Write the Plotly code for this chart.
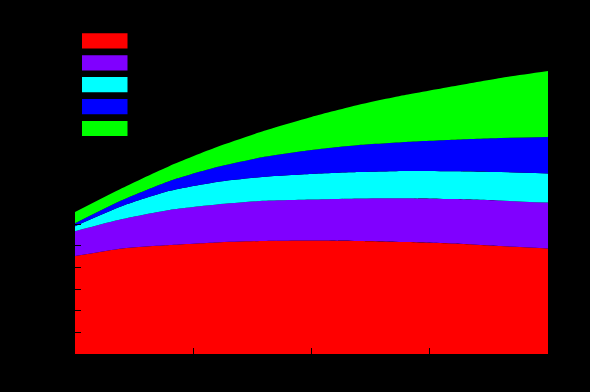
import plotly.graph_objects as go

# ---- data ----
x_vals = [0, 1, 2, 3, 4, 5, 6, 7, 8, 9, 10]
series_names = ["series 1", "series 2", "series 3", "series 4", "series 5"]
series_colors = ["#ff0000", "#8000ff", "#00ffff", "#0000ff", "#00ff00"]
s1 = [4.52, 4.87, 5.03, 5.15, 5.22, 5.24, 5.22, 5.17, 5.10, 4.98, 4.87]
s2 = [1.15, 1.36, 1.62, 1.75, 1.85, 1.89, 1.96, 2.02, 2.05, 2.10, 2.12]
s3 = [0.23, 0.60, 0.88, 1.04, 1.11, 1.18, 1.22, 1.26, 1.29, 1.32, 1.34]
s4 = [0.14, 0.28, 0.46, 0.69, 0.92, 1.11, 1.25, 1.34, 1.45, 1.57, 1.68]
s5 = [0.51, 0.55, 0.69, 0.92, 1.20, 1.52, 1.85, 2.17, 2.47, 2.77, 3.05]
series_values = [s1, s2, s3, s4, s5]
x_ticks = [0, 2.5, 5, 7.5, 10]
x_tick_labels = ["0", "2.5", "5", "7.5", "10"]
y_ticks = list(range(0, 16))

# ---- layout geometry ----
W, H = 590, 392
ML, MR, MT, MB = 75, 42, 26, 38
plot_w = W - ML - MR
plot_h = H - MT - MB
y_max = plot_h / 21.667

fig = go.Figure()
for name, color, vals in zip(series_names, series_colors, series_values):
    fig.add_trace(go.Scatter(
        x=x_vals, y=vals, name=name, stackgroup="one", mode="none",
        fillcolor=color, line=dict(width=0, shape="spline", smoothing=0.6),
        showlegend=False, hoverinfo="skip",
    ))

# legend built from shapes + black labels (as in the reference)
leg_x0, leg_w, leg_h, leg_top, leg_step = 82, 45.5, 15.2, 33.3, 21.9
for i, (name, color) in enumerate(zip(series_names, series_colors)):
    top = leg_top + i * leg_step
    fig.add_shape(
        type="rect", xref="paper", yref="paper",
        x0=(leg_x0 - ML) / plot_w, x1=(leg_x0 + leg_w - ML) / plot_w,
        y0=(H - MB - top - leg_h) / plot_h, y1=(H - MB - top) / plot_h,
        fillcolor=color, line=dict(width=0), layer="above",
    )
    fig.add_annotation(
        xref="paper", yref="paper",
        x=(leg_x0 + leg_w + 8 - ML) / plot_w, y=(H - MB - top - leg_h / 2) / plot_h,
        text=name, showarrow=False, xanchor="left", yanchor="middle",
        font=dict(color="black", size=14, family="DejaVu Sans"),
    )

fig.update_layout(
    width=W, height=H,
    margin=dict(l=ML, r=MR, t=MT, b=MB, pad=0),
    paper_bgcolor="black", plot_bgcolor="black",
    font=dict(color="black", family="DejaVu Sans", size=12),
    showlegend=False,
)
fig.update_xaxes(
    range=[0, 10], tickvals=x_ticks, ticktext=x_tick_labels,
    ticks="inside", ticklen=6, tickwidth=1, tickcolor="black",
    showgrid=False, zeroline=False, showline=False,
    tickfont=dict(color="black"), ticklabelstandoff=6,
)
fig.update_yaxes(
    range=[0, y_max], tickvals=y_ticks,
    ticks="inside", ticklen=6, tickwidth=1, tickcolor="black",
    showgrid=False, zeroline=False, showline=False,
    tickfont=dict(color="black"), ticklabelstandoff=10,
)

fig.write_html(
    "out.html",
    config={"displayModeBar": False},
    post_script="document.body.style.margin='0';document.body.style.background='black';",
)
